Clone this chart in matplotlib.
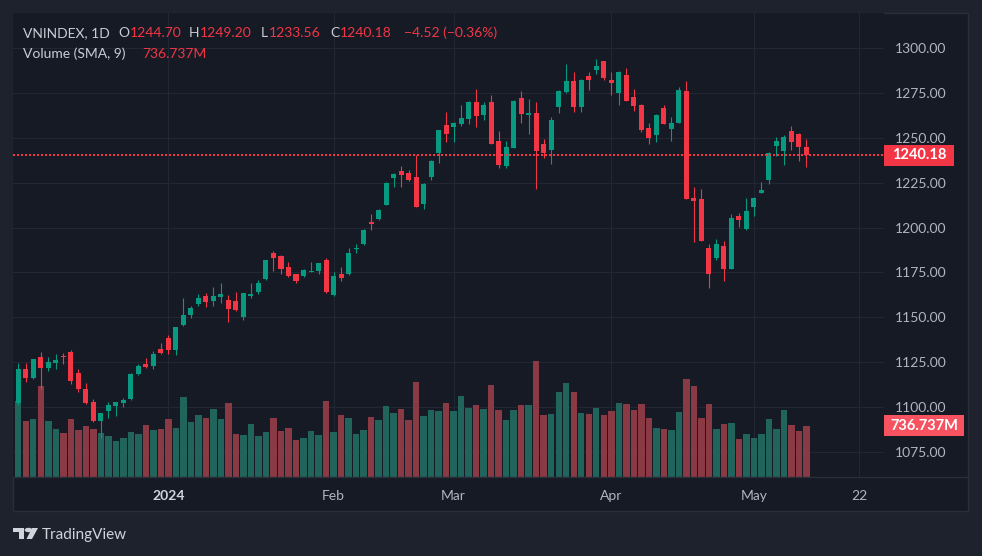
import numpy as np
import pandas as pd
import matplotlib.pyplot as plt
from matplotlib.patches import Rectangle, Polygon, Circle
from matplotlib.lines import Line2D
from matplotlib.transforms import blended_transform_factory

plt.rcParams['font.family'] = ['Lato', 'DejaVu Sans']

# --- DATA: VNINDEX 1D (04/12/2023 - 13/05/2024) ---
HOLIDAYS = ["2024-01-01", "2024-02-08", "2024-02-09", "2024-02-12", "2024-02-13",
            "2024-02-14", "2024-04-18", "2024-04-29", "2024-04-30", "2024-05-01"]
dates = pd.bdate_range("2023-12-04", "2024-05-13")
dates = dates[~dates.isin(pd.to_datetime(HOLIDAYS))]

opens = [1102.2, 1121.1, 1116.1, 1127.8, 1121.7, 1124.4, 1128.5, 1130.6, 1118.9, 1110.0,
         1102.8, 1092.2, 1097.8, 1100.6, 1102.2, 1104.4, 1118.3, 1123.9, 1122.8, 1132.2,
         1138.3, 1131.7, 1145.6, 1151.1, 1157.2, 1161.7, 1158.9, 1161.1, 1159.4, 1158.9,
         1150.0, 1161.7, 1163.9, 1171.1, 1186.1, 1184.4, 1177.8, 1173.9, 1172.8, 1175.3,
         1175.6, 1182.2, 1162.2, 1174.4, 1173.9, 1187.8, 1190.6, 1203.3, 1205.0, 1212.8,
         1227.8, 1231.7, 1230.6, 1228.3, 1213.3, 1228.3, 1241.7, 1257.2, 1256.1, 1257.8,
         1260.6, 1270.0, 1262.8, 1270.0, 1248.3, 1234.4, 1244.4, 1272.2, 1262.8, 1263.9,
         1246.7, 1243.3, 1267.2, 1275.6, 1281.7, 1267.2, 1284.4, 1287.8, 1292.8, 1282.2,
         1275.0, 1285.0, 1272.8, 1268.3, 1255.6, 1251.7, 1266.7, 1255.0, 1258.3, 1276.1,
         1216.7, 1216.1, 1188.9, 1183.3, 1190.0, 1177.2, 1206.7, 1199.4, 1211.7, 1219.4,
         1226.7, 1245.6, 1242.8, 1253.9, 1252.2, 1244.70]
highs = [1124.4, 1124.4, 1127.0, 1130.6, 1127.8, 1129.4, 1130.0, 1131.7, 1121.1, 1113.3,
         1104.4, 1096.9, 1102.8, 1103.0, 1105.0, 1118.9, 1123.9, 1127.2, 1131.1, 1135.6,
         1140.0, 1144.6, 1160.6, 1156.1, 1162.8, 1163.3, 1166.7, 1169.4, 1162.2, 1163.9,
         1163.5, 1168.9, 1170.6, 1181.9, 1187.2, 1185.0, 1180.6, 1174.2, 1177.2, 1180.6,
         1180.3, 1182.8, 1175.0, 1178.3, 1188.9, 1191.1, 1199.4, 1207.8, 1210.6, 1225.6,
         1230.6, 1234.4, 1232.2, 1240.6, 1225.0, 1237.8, 1254.6, 1264.4, 1258.9, 1268.3,
         1270.3, 1277.2, 1270.0, 1273.9, 1253.9, 1248.3, 1270.8, 1276.1, 1271.7, 1270.0,
         1249.4, 1261.7, 1276.4, 1291.1, 1286.7, 1282.5, 1286.7, 1293.9, 1293.0, 1286.7,
         1287.0, 1288.9, 1277.2, 1268.6, 1258.3, 1263.0, 1268.3, 1261.7, 1278.3, 1281.7,
         1222.8, 1221.7, 1191.1, 1193.9, 1192.8, 1207.8, 1208.3, 1216.7, 1217.0, 1225.6,
         1242.0, 1250.6, 1251.7, 1256.7, 1252.5, 1249.20]
lows = [1101.0, 1113.9, 1115.8, 1110.0, 1120.0, 1121.1, 1123.9, 1112.8, 1108.3, 1102.0,
        1092.0, 1082.8, 1093.9, 1095.0, 1100.0, 1104.0, 1118.0, 1122.0, 1121.1, 1129.8,
        1129.4, 1128.9, 1145.0, 1149.4, 1156.1, 1155.6, 1156.1, 1157.8, 1147.2, 1153.6,
        1148.3, 1160.6, 1162.8, 1170.8, 1175.6, 1173.9, 1172.5, 1168.9, 1172.5, 1175.0,
        1174.4, 1163.3, 1162.0, 1170.0, 1173.6, 1186.1, 1190.3, 1198.9, 1204.4, 1212.5,
        1222.8, 1222.8, 1226.1, 1211.5, 1210.6, 1226.7, 1236.1, 1247.8, 1247.8, 1256.7,
        1257.8, 1256.1, 1260.0, 1246.5, 1233.3, 1233.3, 1244.2, 1258.3, 1252.2, 1221.7,
        1238.9, 1235.6, 1263.9, 1275.0, 1264.4, 1264.4, 1276.7, 1285.6, 1282.2, 1273.9,
        1268.3, 1270.4, 1265.0, 1253.3, 1246.7, 1247.8, 1257.5, 1248.3, 1258.0, 1215.8,
        1191.7, 1192.5, 1166.1, 1181.7, 1170.0, 1177.0, 1200.6, 1198.9, 1206.7, 1219.2,
        1224.4, 1240.0, 1235.0, 1243.3, 1237.2, 1233.56]
closes = [1121.1, 1116.1, 1126.7, 1121.7, 1125.0, 1126.1, 1128.1, 1114.4, 1110.0, 1102.2,
          1092.2, 1096.7, 1101.1, 1102.8, 1103.9, 1118.3, 1122.8, 1122.2, 1129.4, 1130.0,
          1131.7, 1144.4, 1151.1, 1155.0, 1160.6, 1158.3, 1161.7, 1162.8, 1154.4, 1153.9,
          1163.3, 1162.8, 1169.4, 1181.7, 1182.8, 1177.2, 1172.8, 1170.0, 1176.1, 1175.7,
          1180.0, 1163.9, 1173.3, 1172.2, 1186.1, 1188.9, 1198.9, 1202.2, 1210.0, 1225.0,
          1230.0, 1229.4, 1226.7, 1211.7, 1224.4, 1237.2, 1254.4, 1252.2, 1258.3, 1261.1,
          1270.0, 1262.2, 1268.3, 1246.7, 1235.0, 1245.0, 1270.6, 1263.3, 1263.9, 1242.8,
          1241.7, 1260.0, 1276.1, 1281.7, 1267.2, 1282.2, 1282.2, 1290.0, 1283.3, 1280.6,
          1286.7, 1270.6, 1267.8, 1254.4, 1250.0, 1262.8, 1257.8, 1258.3, 1276.7, 1216.1,
          1215.0, 1192.8, 1174.4, 1190.6, 1177.2, 1205.6, 1204.4, 1209.4, 1216.7, 1221.1,
          1241.7, 1248.3, 1250.6, 1247.8, 1244.70, 1240.18]
# volume (juta saham / million)
volumes = [1098, 809, 838, 1315, 809, 694, 636, 838, 679, 737,
           694, 636, 592, 520, 564, 650, 621, 751, 679, 694,
           838, 708, 1156, 795, 896, 853, 983, 838, 1069, 621,
           607, 766, 592, 650, 853, 665, 708, 535, 564, 665,
           607, 1098, 650, 896, 853, 621, 679, 867, 824, 1026,
           925, 983, 824, 1373, 881, 968, 954, 1069, 954, 1170,
           997, 1040, 983, 1329, 968, 824, 968, 1040, 1040, 1676,
           896, 910, 1228, 1358, 1228, 925, 910, 997, 896, 954,
           1069, 1055, 968, 1055, 853, 708, 694, 679, 939, 1416,
           1315, 853, 1055, 694, 766, 780, 549, 621, 564, 621,
           838, 694, 968, 751, 665, 736.737]

PRICE_TICKS = [1075, 1100, 1125, 1150, 1175, 1200, 1225, 1250, 1275, 1300]
TICK_LABELS = ["2024", "Feb", "Mar", "Apr", "May", "22"]

# --- WARNA ---
BG_OUT = '#1e222d'
BG_IN = '#161a25'
LINE = '#2a2e39'
GRID = '#232733'
TXT = '#b2b5be'
UP = '#089981'
DOWN = '#f23645'
VOL_UP = '#20645b'
VOL_DOWN = '#8a3a45'

W, H = 982, 556


def fx(px):
    return px / W


def fy(py):
    return 1 - py / H


o, h, l, c = (np.array(a) for a in (opens, highs, lows, closes))
x = np.arange(len(dates))
up = c >= o

# posisi tick: hari pertama tiap bulan + 22 Mei (masa depan)
month_starts = [int(np.argmax((dates.year == 2024) & (dates.month == m))) for m in range(1, 6)]
future = pd.bdate_range(dates[-1] + pd.Timedelta(days=1), "2024-05-22")
tick_pos = month_starts + [len(dates) - 1 + len(future)]

fig = plt.figure(figsize=(W / 100, H / 100), dpi=100, facecolor=BG_OUT)
fig.add_artist(Rectangle((fx(13), fy(511)), fx(968) - fx(13), fy(13) - fy(511),
                         transform=fig.transFigure, facecolor=BG_IN, edgecolor=LINE,
                         lw=1, zorder=-10))
fig.add_artist(Line2D([fx(13), fx(968)], [fy(477), fy(477)], transform=fig.transFigure,
                      color=LINE, lw=1))

ax = fig.add_axes([fx(13), fy(477), (884 - 13) / W, (477 - 13) / H])
ax_v = ax.twinx()
ax_c = ax.twinx()
ax.set_facecolor(BG_IN)

YLIM = (1061.1, 1319.5)
VLIM = (0, 6700)
ax.set_xlim(-0.70, 115.33)
ax.set_ylim(*YLIM)
ax_c.set_ylim(*YLIM)
ax_v.set_ylim(*VLIM)

# volume
ax_v.bar(x, volumes, width=0.86, color=np.where(up, VOL_UP, VOL_DOWN), lw=0)

# candlestick
col = np.where(up, UP, DOWN)
ax_c.vlines(x, l, h, colors=col, lw=0.8)
body = np.maximum(np.abs(c - o), 0.6)
ax_c.bar(x, body, bottom=np.minimum(o, c), width=0.67, color=col, lw=0)
ax_c.axhline(c[-1], color=DOWN, lw=1.1, ls=(0, (1, 1.8)), antialiased=False)

# sumbu
ax.set_yticks(PRICE_TICKS)
ax.set_yticklabels([f"{t:.2f}" for t in PRICE_TICKS])
ax.yaxis.tick_right()
ax.tick_params(axis='y', length=0, pad=8, labelcolor=TXT, labelsize=10)
ax.set_xticks(tick_pos)
ax.set_xticklabels(TICK_LABELS)
ax.tick_params(axis='x', length=0, pad=9, labelcolor=TXT, labelsize=10)
ax.get_xticklabels()[0].set_fontweight('bold')
ax.get_xticklabels()[0].set_color('#d1d4dc')
ax.grid(True, color=GRID, lw=0.8)
for a in (ax_v, ax_c):
    a.set_yticks([])
for a in (ax, ax_v, ax_c):
    for s in a.spines.values():
        s.set_visible(False)

# label harga terakhir
tr = blended_transform_factory(ax.transAxes, ax.transData)
bh = 21 / 1.7956
ax.add_patch(Rectangle((1.0, c[-1] - bh / 2), 70 / 871, bh, transform=tr,
                       facecolor=DOWN, lw=0, clip_on=False))
ax.text(1.0 + 35 / 871, c[-1], f"{c[-1]:.2f}", transform=tr, ha='center', va='center',
        color='white', fontsize=10.5, fontweight='bold')

# label volume terakhir
trv = blended_transform_factory(ax_v.transAxes, ax_v.transData)
vh = 21 * VLIM[1] / 464
ax_v.add_patch(Rectangle((1.0, volumes[-1] - vh / 2), 80 / 871, vh, transform=trv,
                         facecolor='#f7525f', lw=0, clip_on=False))
ax_v.text(1.0 + 40 / 871, volumes[-1], f"{volumes[-1]:.3f}M", transform=trv,
          ha='center', va='center', color='white', fontsize=10.5, fontweight='bold')

# legend kiri atas
chg = c[-1] - c[-2]
pct = chg / c[-2] * 100
LEG = '#c9ccd4'
items = [(23, "VNINDEX, 1D", LEG), (118, "O", LEG), (130, f"{o[-1]:.2f}", DOWN),
         (189, "H", LEG), (200, f"{h[-1]:.2f}", DOWN), (261, "L", LEG),
         (269, f"{l[-1]:.2f}", DOWN), (330, "C", LEG), (340, f"{c[-1]:.2f}", DOWN),
         (404, f"{chg:+.2f} ({pct:+.2f}%)".replace('-', '\u2212'), DOWN)]
for px, s, cl in items:
    fig.text(fx(px), fy(37), s, color=cl, fontsize=10, va='baseline')
fig.text(fx(23), fy(58.5), "Volume (SMA, 9)", color=LEG, fontsize=10, va='baseline')
fig.text(fx(142), fy(58.5), f"{volumes[-1]:.3f}M", color=DOWN, fontsize=10, va='baseline')

# logo TradingView
LOGO = '#d1d4dc'
fig.add_artist(Polygon([(fx(13), fy(528)), (fx(24), fy(528)), (fx(24), fy(539)),
                        (fx(19), fy(539)), (fx(19), fy(532)), (fx(13), fy(532))],
                       closed=True, transform=fig.transFigure, color=LOGO, lw=0))
fig.add_artist(Circle((fx(28.5), fy(530)), 2.2 / H, transform=fig.transFigure,
                      color=LOGO, lw=0))
fig.add_artist(Polygon([(fx(32), fy(528)), (fx(38), fy(528)), (fx(32), fy(539)),
                        (fx(26.5), fy(539))],
                       closed=True, transform=fig.transFigure, color=LOGO, lw=0))
fig.text(fx(42), fy(539.5), "TradingView", color=LOGO, fontsize=11, va='baseline')

fig.savefig('out.png', dpi=100, facecolor=fig.get_facecolor())
